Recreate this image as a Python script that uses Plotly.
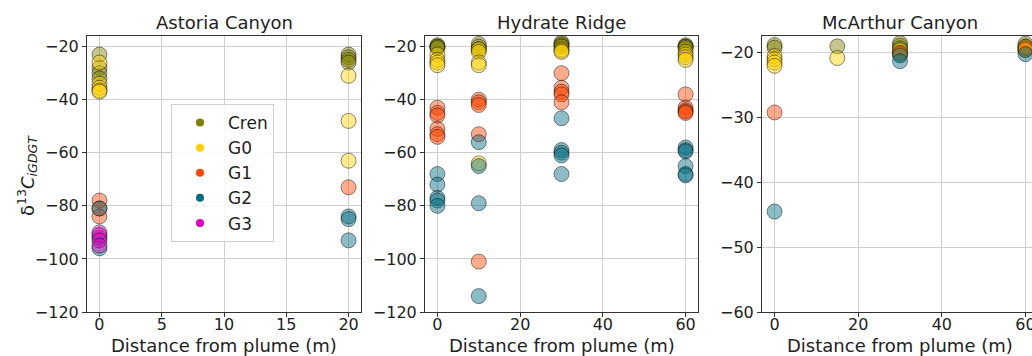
import plotly.graph_objects as go

# ---------------- data (long format per site) ----------------
groups = ["Cren", "G0", "G1", "G2", "G3"]
group_colors = ["#808000", "#ffd000", "#ff4500", "#006d80", "#e000c0"]

astoria_dist = ([0]*4 + [0]*5 + [0]*3 + [0]*3 + [0]*4 +
                [20]*4 + [20]*3 + [20]*1 + [20]*3)
astoria_group = (["Cren"]*4 + ["G0"]*5 + ["G1"]*3 + ["G2"]*3 + ["G3"]*4 +
                 ["Cren"]*4 + ["G0"]*3 + ["G1"]*1 + ["G2"]*3)
astoria_d13c = [-23, -28, -30, -32,
                -26, -34, -35.5, -36.5, -37,
                -78, -81, -84,
                -81, -92, -96,
                -90, -91, -93, -95,
                -23, -24, -25, -26,
                -31, -48, -63,
                -73,
                -84, -85, -93]

hydrate_dist = ([0]*4 + [0]*4 + [0]*6 + [0]*5 +
                [10]*3 + [10]*5 + [10]*5 + [10]*4 +
                [30]*4 + [30]*3 + [30]*5 + [30]*5 +
                [60]*4 + [60]*4 + [60]*5 + [60]*6)
hydrate_group = (["Cren"]*4 + ["G0"]*4 + ["G1"]*6 + ["G2"]*5 +
                 ["Cren"]*3 + ["G0"]*5 + ["G1"]*5 + ["G2"]*4 +
                 ["Cren"]*4 + ["G0"]*3 + ["G1"]*5 + ["G2"]*5 +
                 ["Cren"]*4 + ["G0"]*4 + ["G1"]*5 + ["G2"]*6)
hydrate_d13c = [-19.5, -20, -20, -20.5,
                -23, -25, -26, -27,
                -43, -45, -46, -51, -53, -54,
                -68, -72, -77, -78, -80,
                -19, -20, -21,
                -21, -22, -26, -27, -64,
                -40, -41, -42, -53, -101,
                -56, -65, -79, -114,
                -18.5, -19, -19.5, -20,
                -21, -21.5, -22,
                -30, -35.5, -37, -38, -41,
                -47, -59, -60, -61, -68,
                -19.5, -20, -20, -20.5,
                -22, -23, -24, -25,
                -38, -43, -44, -44.5, -45,
                -58, -59, -59.5, -65, -68, -68.5]

mcarthur_dist = ([0]*2 + [0]*4 + [0] + [0] +
                 [15] + [15] +
                 [30]*3 + [30]*2 + [30] + [30]*2 +
                 [60]*3 + [60]*2 + [60] + [60])
mcarthur_group = (["Cren"]*2 + ["G0"]*4 + ["G1"] + ["G2"] +
                  ["Cren"] + ["G0"] +
                  ["Cren"]*3 + ["G0"]*2 + ["G1"] + ["G2"]*2 +
                  ["Cren"]*3 + ["G0"]*2 + ["G1"] + ["G2"])
mcarthur_d13c = [-18.8, -19.2, -20.5, -21, -21.5, -22, -29.2, -44.5,
                 -19, -20.8,
                 -18.5, -18.9, -19.3, -19.6, -20.2, -20, -20.4, -21.3,
                 -18.6, -19, -19.6, -19.1, -19.5, -19.3, -20.2]

site_titles = ["Astoria Canyon", "Hydrate Ridge", "McArthur Canyon"]
x_ticks = [[0, 5, 10, 15, 20], [0, 20, 40, 60], [0, 20, 40, 60]]
y_ticks = [[-120, -100, -80, -60, -40, -20],
           [-120, -100, -80, -60, -40, -20],
           [-60, -50, -40, -30, -20]]
x_ranges = [[-1, 21], [-3, 63], [-3, 63]]
y_ranges = [[-120, -16], [-120, -16], [-60, -17.4]]

sites = [(astoria_dist, astoria_group, astoria_d13c),
         (hydrate_dist, hydrate_group, hydrate_d13c),
         (mcarthur_dist, mcarthur_group, mcarthur_d13c)]

# ---------------- layout geometry ----------------
# figure is a bit wider than the window, so the right panel is cut off
W, H = 1044, 356
x_doms = [[87 / W, 361 / W], [425 / W, 698 / W], [762 / W, 1038 / W]]
y_dom = [1 - 312 / H, 1 - 36 / H]

FONT = "DejaVu Sans"


def rgba(hexc, a):
    h = hexc.lstrip("#")
    r, g, b = int(h[0:2], 16), int(h[2:4], 16), int(h[4:6], 16)
    return f"rgba({r},{g},{b},{a})"


fig = go.Figure()

for i, (dist, grp, vals) in enumerate(sites):
    xa = "x" if i == 0 else f"x{i+1}"
    ya = "y" if i == 0 else f"y{i+1}"
    for g, c in zip(groups, group_colors):
        xs = [d for d, gg in zip(dist, grp) if gg == g]
        ys = [v for v, gg in zip(vals, grp) if gg == g]
        if not xs:
            continue
        fig.add_trace(go.Scatter(
            x=xs, y=ys, mode="markers", xaxis=xa, yaxis=ya,
            showlegend=False, name=g, legendgroup=g,
            marker=dict(size=15, color=rgba(c, 0.45),
                        line=dict(color="rgba(0,0,0,0.45)", width=1)),
            cliponaxis=True,
        ))

# legend entries (solid markers)
for g, c in zip(groups, group_colors):
    fig.add_trace(go.Scatter(
        x=[None], y=[None], mode="markers", name=g, legendgroup=g,
        marker=dict(size=8, color=c), showlegend=True,
    ))

layout = dict(
    width=W, height=H, autosize=False,
    margin=dict(l=0, r=0, t=0, b=0, pad=0, autoexpand=False),
    paper_bgcolor="white", plot_bgcolor="white",
    font=dict(family=FONT, size=16, color="#222"),
    legend=dict(
        x=171 / W, y=1 - 104 / H, xanchor="left", yanchor="top",
        bgcolor="rgba(255,255,255,0.85)", bordercolor="#d0d0d0", borderwidth=1,
        font=dict(size=17, family=FONT, color="#222"),
        itemwidth=46, tracegroupgap=0,
    ),
)

for i in range(3):
    sfx = "" if i == 0 else str(i + 1)
    layout["xaxis" + sfx] = dict(
        domain=x_doms[i], range=x_ranges[i], anchor="y" + sfx,
        tickvals=x_ticks[i], ticks="outside", ticklen=4, tickcolor="#333",
        ticklabelstandoff=-6,
        showgrid=True, gridcolor="#cfcfcf", gridwidth=1, zeroline=False,
        showline=True, linecolor="#333", linewidth=1, mirror=True,
        automargin=False,
        tickfont=dict(size=16, family=FONT, color="#222"),
    )
    layout["yaxis" + sfx] = dict(
        domain=y_dom, range=y_ranges[i], anchor="x" + sfx,
        tickvals=y_ticks[i], ticks="outside", ticklen=4, tickcolor="#333",
        showgrid=True, gridcolor="#cfcfcf", gridwidth=1, zeroline=False,
        showline=True, linecolor="#333", linewidth=1, mirror=True,
        automargin=False,
        tickfont=dict(size=16, family=FONT, color="#222"),
    )

fig.update_layout(**layout)

annotations = []
centers = [(87 + 361) / 2, (425 + 698) / 2, (762 + 1038) / 2]
for i, t in enumerate(site_titles):
    annotations.append(dict(
        text=t, x=centers[i] / W, y=1 - 23 / H, xref="paper", yref="paper",
        showarrow=False, xanchor="center", yanchor="middle",
        font=dict(size=18, family=FONT, color="#222")))
    annotations.append(dict(
        text="Distance from plume (m)", x=centers[i] / W, y=1 - 345 / H,
        xref="paper", yref="paper", showarrow=False,
        xanchor="center", yanchor="middle",
        font=dict(size=18, family=FONT, color="#222")))
annotations.append(dict(
    text="δ<sup>13</sup><i>C</i><sub><i>iGDGT</i></sub>",
    x=27 / W, y=1 - 176 / H, xref="paper", yref="paper", showarrow=False,
    textangle=-90, xanchor="center", yanchor="middle",
    font=dict(size=18, family=FONT, color="#222")))
fig.update_layout(annotations=annotations)

fig.write_html(
    "out.html",
    config={"displayModeBar": False, "responsive": False},
    post_script="document.body.style.margin='0px';"
                "document.body.style.overflow='hidden';",
)
